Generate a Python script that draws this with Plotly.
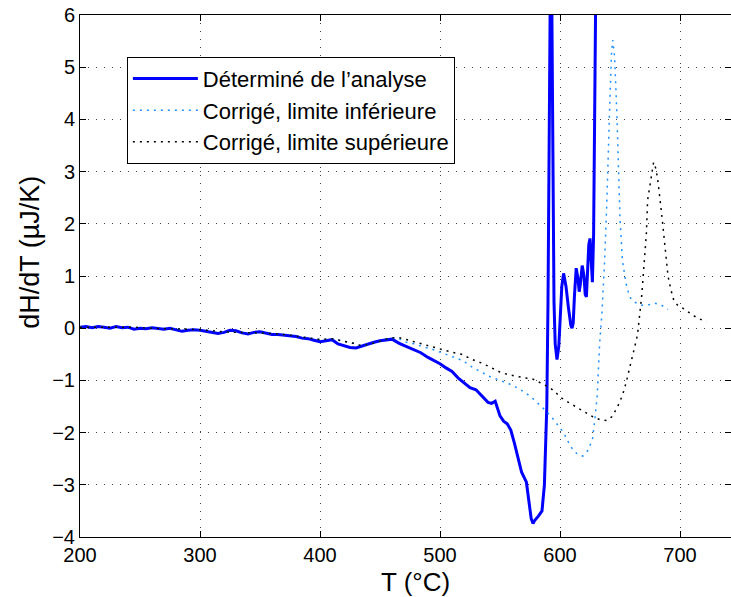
import plotly.graph_objects as go

# Déterminé de l'analyse (solid blue)
t_det = [200, 205, 210, 215, 220, 225, 230, 235, 240, 245, 250, 255, 260, 265,
         270, 275, 280, 285, 290, 295, 300, 305, 310, 315, 320, 325, 330, 335,
         340, 345, 350, 355, 360, 365, 370, 375, 380, 385, 390, 395, 400, 405,
         410, 415, 420, 425, 430, 435, 440, 445, 450, 455, 460, 466, 472, 478,
         484, 490, 495, 500, 505, 510, 515, 520, 525, 530, 535, 540, 543, 546,
         550, 553, 556, 559, 562, 565, 568, 572, 574, 576, 577.5, 579, 582, 585,
         587, 588, 589, 590, 591, 592, 593, 594, 595, 596, 597.5, 599, 600, 601.5,
         603, 605, 607, 609, 610, 611, 612, 613.5, 615, 616, 617, 618.5, 620,
         621, 622, 623, 624, 625, 626, 627, 628, 629, 630]
dh_det = [0.02, 0.03, 0.01, 0.03, 0.02, 0.0, 0.03, 0.01, 0.02, -0.02, 0.0, -0.01,
          0.01, -0.01, -0.02, 0.0, -0.03, -0.06, -0.04, -0.03, -0.04, -0.06,
          -0.08, -0.1, -0.08, -0.04, -0.05, -0.09, -0.11, -0.08, -0.07, -0.1,
          -0.12, -0.12, -0.13, -0.15, -0.16, -0.19, -0.2, -0.23, -0.26, -0.24,
          -0.22, -0.3, -0.34, -0.37, -0.38, -0.34, -0.3, -0.27, -0.24, -0.22,
          -0.21, -0.29, -0.35, -0.41, -0.47, -0.56, -0.62, -0.68, -0.76, -0.83,
          -0.95, -1.05, -1.14, -1.18, -1.3, -1.42, -1.44, -1.40, -1.68, -1.78,
          -1.83, -1.95, -2.2, -2.5, -2.76, -2.95, -3.3, -3.65, -3.74, -3.68,
          -3.6, -3.5, -3.0, -2.4, -1.5, 0.5, 3.5, 6.8, 6.8, 3.0, 0.5, -0.3,
          -0.6, -0.35, 0.2, 0.8, 1.05, 0.8, 0.4, 0.06, 0.0, 0.1, 0.6, 1.15,
          0.95, 0.7, 0.85, 1.2, 1.0, 0.65, 0.6, 1.0, 1.6, 1.72, 1.3, 0.88, 1.8,
          4.0, 7.0]

# Corrigé, limite inférieure (dotted light blue)
t_inf = [200, 220, 240, 260, 280, 300, 320, 340, 360, 380, 400, 410, 420, 428,
         435, 444, 452, 458, 465, 472, 479, 486, 492, 502, 511, 519, 527, 535,
         542, 550, 558, 565, 572, 578, 583, 589, 594, 598, 603, 607, 611, 615,
         619, 623, 627, 629, 631, 633, 635, 637, 639, 641.5, 643, 644, 645.5,
         647.5, 650, 652, 655, 658, 662, 668, 674, 679, 684, 690]
dh_inf = [0.02, 0.02, 0.02, 0.0, -0.02, -0.03, -0.07, -0.09, -0.1, -0.15,
          -0.22, -0.2, -0.25, -0.29, -0.34, -0.29, -0.23, -0.19, -0.19, -0.27,
          -0.3, -0.36, -0.39, -0.48, -0.56, -0.62, -0.75, -0.85, -0.93, -1.0,
          -1.07, -1.15, -1.25, -1.36, -1.47, -1.6, -1.73, -1.85, -2.0, -2.18,
          -2.34, -2.42, -2.45, -2.35, -2.14, -1.76, -1.3, -0.3, 0.3, 1.2, 2.4,
          4.3, 5.3, 5.52, 5.2, 4.04, 2.1, 1.3, 0.86, 0.6, 0.5, 0.44, 0.45, 0.48,
          0.45, 0.36]

# Corrigé, limite supérieure (dotted black)
t_sup = [200, 220, 240, 260, 280, 300, 320, 340, 360, 380, 400, 410, 420, 428,
         435, 444, 452, 458, 466, 472, 479, 490, 502, 510, 518, 527, 535, 543,
         550, 557, 564, 570, 577, 584, 591, 596, 600, 607, 614, 621, 627.5, 633,
         639, 643, 647.5, 650, 652.5, 655, 658, 660, 662.5, 664, 665, 666.7,
         668, 669, 671, 672, 673, 676, 678, 680, 681.7, 685, 687.5, 690, 692.5,
         695, 698, 704, 710, 715, 722]
dh_sup = [0.02, 0.02, 0.02, 0.0, -0.02, -0.03, -0.07, -0.09, -0.1, -0.15,
          -0.22, -0.2, -0.25, -0.29, -0.34, -0.29, -0.23, -0.19, -0.18, -0.22,
          -0.27, -0.34, -0.41, -0.46, -0.5, -0.6, -0.67, -0.76, -0.84, -0.89,
          -0.93, -0.95, -0.97, -1.05, -1.13, -1.22, -1.32, -1.42, -1.51, -1.6,
          -1.7, -1.75, -1.77, -1.7, -1.53, -1.4, -1.25, -1.05, -0.75, -0.55,
          -0.36, -0.19, -0.04, 0.29, 0.6, 0.9, 1.5, 1.82, 2.45, 2.9, 3.18, 3.05,
          2.8, 2.13, 1.49, 1.0, 0.73, 0.52, 0.44, 0.36, 0.26, 0.19, 0.12]

x_ticks = [200, 300, 400, 500, 600, 700]
y_ticks = [-4, -3, -2, -1, 0, 1, 2, 3, 4, 5, 6]

fig = go.Figure()
fig.add_trace(go.Scatter(x=t_det, y=dh_det, mode='lines',
                         name='Déterminé de l’analyse',
                         line=dict(color='#0000FF', width=3)))
fig.add_trace(go.Scatter(x=t_inf, y=dh_inf, mode='lines',
                         name='Corrigé, limite inférieure',
                         line=dict(color='#1E90FF', width=1.5, dash='2px,5px')))
fig.add_trace(go.Scatter(x=t_sup, y=dh_sup, mode='lines',
                         name='Corrigé, limite supérieure',
                         line=dict(color='black', width=1.5, dash='2px,5px')))

axis_style = dict(showline=True, linecolor='black', linewidth=1, mirror='allticks',
                  ticks='inside', ticklen=6, tickcolor='black',
                  showgrid=True, gridcolor='#444', gridwidth=1, griddash='1px,7px',
                  zeroline=False, automargin=False,
                  tickfont=dict(size=20, color='black'))

fig.update_layout(
    width=731, height=597,
    margin=dict(l=80, r=0, t=15, b=60),
    plot_bgcolor='white', paper_bgcolor='white',
    font=dict(family='Liberation Sans, Arial, sans-serif', color='black'),
    xaxis=dict(range=[200, 742.5], tickvals=x_ticks, **axis_style),
    yaxis=dict(range=[-4, 6], tickvals=y_ticks, **axis_style),
    legend=dict(x=0.072, y=0.92, xanchor='left', yanchor='top',
                bgcolor='white', bordercolor='black', borderwidth=1,
                font=dict(size=22), itemwidth=65, tracegroupgap=0),
)

# axis labels as annotations so they sit where the original put them
fig.add_annotation(text='T (°C)', xref='paper', yref='paper', x=0.515, y=-0.086,
                   xanchor='center', yanchor='middle', showarrow=False,
                   font=dict(size=26))
fig.add_annotation(text='dH/dT (µJ/K)', xref='paper', yref='paper', x=-0.077,
                   y=0.546, xanchor='center', yanchor='middle', textangle=-90,
                   showarrow=False, font=dict(size=27))

# drop the browser's default 8px body margin so the figure fills the window
fig.write_html("out.html", config={'displayModeBar': False},
               post_script="document.body.style.margin='0';")
